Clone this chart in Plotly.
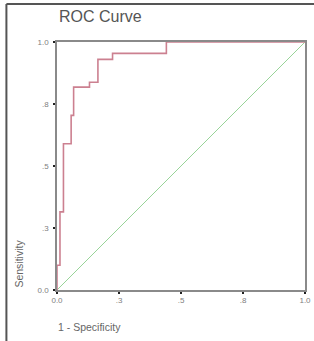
import plotly.graph_objects as go

# ROC curve step points (1 - specificity, sensitivity)
roc_fpr = [0.0, 0.0, 0.012, 0.012, 0.026, 0.026, 0.057, 0.057, 0.067, 0.067, 0.131, 0.131, 0.165, 0.165, 0.224, 0.224, 0.441, 0.441, 1.0]
roc_tpr = [0.0, 0.10, 0.10, 0.315, 0.315, 0.59, 0.59, 0.704, 0.704, 0.818, 0.818, 0.838, 0.838, 0.93, 0.93, 0.954, 0.954, 1.0, 1.0]
ref_line = [0.0, 1.0]

tick_vals = [0.0, 0.25, 0.5, 0.75, 1.0]
tick_text = ["0.0", ".3", ".5", ".8", "1.0"]

fig = go.Figure()
fig.add_trace(go.Scatter(x=ref_line, y=ref_line, mode="lines",
                         line=dict(color="#98d498", width=1), hoverinfo="skip"))
fig.add_trace(go.Scatter(x=roc_fpr, y=roc_tpr, mode="lines",
                         line=dict(color="#cc8090", width=1.6), hoverinfo="skip"))

axis_common = dict(range=[0, 1], tickvals=tick_vals, ticktext=tick_text,
                   showgrid=False, zeroline=False, showline=True,
                   linecolor="#8a8a8a", linewidth=1.6, mirror=True,
                   ticks="outside", ticklen=2, tickwidth=2, tickcolor="#222",
                   tickfont=dict(family="Liberation Sans, Arial", size=8, color="#808080"),
                   fixedrange=True, automargin=False)

fig.update_layout(
    width=314, height=341,
    margin=dict(l=57, r=9, t=42, b=51),
    paper_bgcolor="white", plot_bgcolor="white",
    showlegend=False,
    xaxis=dict(**axis_common),
    yaxis=dict(**axis_common, ticklabelstandoff=3),
    shapes=[
        dict(type="line", xref="paper", yref="paper", x0=-0.204, x1=1.1, y0=1.153, y1=1.153,
             line=dict(color="#555", width=2)),
        dict(type="line", xref="paper", yref="paper", x0=-0.204, x1=-0.204, y0=-0.3, y1=1.153,
             line=dict(color="#555", width=2)),
    ],
    annotations=[
        dict(text="ROC Curve", xref="paper", yref="paper", x=0.0, y=1.06,
             xanchor="left", yanchor="bottom", showarrow=False,
             font=dict(family="Liberation Sans, Arial", size=16, color="#555")),
        dict(text="1 - Specificity", xref="paper", yref="paper", x=-0.005, y=-0.148,
             xanchor="left", yanchor="middle", showarrow=False,
             font=dict(family="Liberation Sans, Arial", size=10.5, color="#666")),
        dict(text="Sensitivity", xref="paper", yref="paper", x=-0.155, y=0.0,
             xanchor="center", yanchor="bottom", textangle=-90, showarrow=False,
             font=dict(family="Liberation Sans, Arial", size=10.5, color="#666")),
    ],
)

fig.write_html("out.html", config={"displayModeBar": False},
               post_script="document.body.style.margin='0px';document.body.style.overflow='hidden';")
